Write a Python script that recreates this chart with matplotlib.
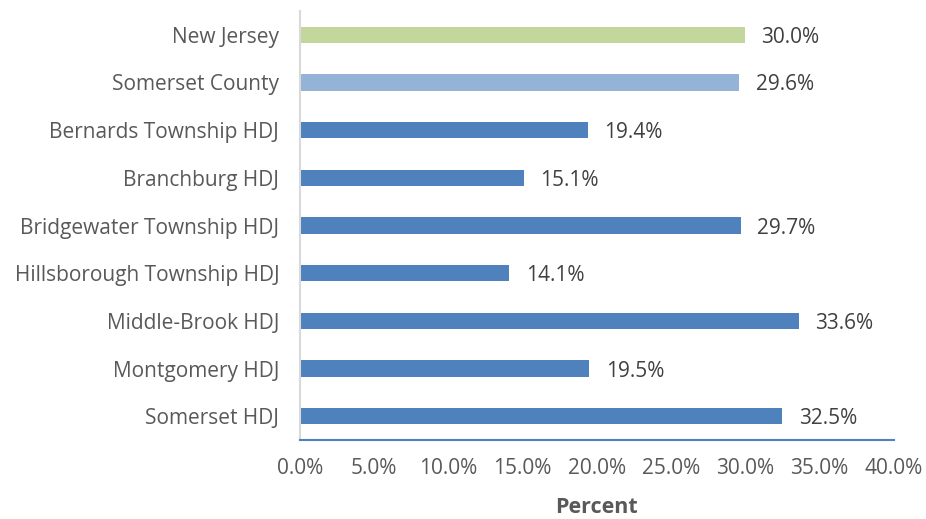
import matplotlib.pyplot as plt
from matplotlib.ticker import PercentFormatter

plt.rcParams['font.family'] = ['Open Sans', 'DejaVu Sans']

# Data
categories = ['New Jersey', 'Somerset County', 'Bernards Township HDJ', 'Branchburg HDJ',
              'Bridgewater Township HDJ', 'Hillsborough Township HDJ', 'Middle-Brook HDJ',
              'Montgomery HDJ', 'Somerset HDJ']
values = [30.0, 29.6, 19.4, 15.1, 29.7, 14.1, 33.6, 19.5, 32.5]
colors = ['#C3D69B', '#95B3D7'] + ['#4F81BD'] * 7

fig = plt.figure(figsize=(9.26, 5.19), dpi=100)
ax = fig.add_axes([0.324, 0.152, 0.641, 0.827])

y = list(range(len(categories)))[::-1]
ax.barh(y, values, height=0.34, color=colors)
ax.set_ylim(-0.5, len(categories) - 0.5)
ax.set_xlim(0, 40)
ax.set_yticks(y)
ax.set_yticklabels(categories)
ax.set_xticks(range(0, 41, 5))
ax.xaxis.set_major_formatter(PercentFormatter(decimals=1))

# value labels
for yi, v in zip(y, values):
    ax.text(v + 1.1, yi, f'{v:.1f}%', va='center_baseline', ha='left', fontsize=15, color='#404040')

txt = '#595959'
ax.tick_params(axis='both', length=0, labelsize=15, labelcolor=txt)
ax.tick_params(axis='x', pad=13)
ax.tick_params(axis='y', pad=15)
for s in ['top', 'right']:
    ax.spines[s].set_visible(False)
ax.spines['left'].set_color('#D9D9D9')
ax.spines['left'].set_linewidth(1.5)
ax.spines['bottom'].set_color('#4F81BD')
ax.spines['bottom'].set_linewidth(1.5)
ax.set_xlabel('Percent', fontsize=15.5, fontweight='bold', color=txt, labelpad=13)

fig.savefig('out.png', dpi=100)
